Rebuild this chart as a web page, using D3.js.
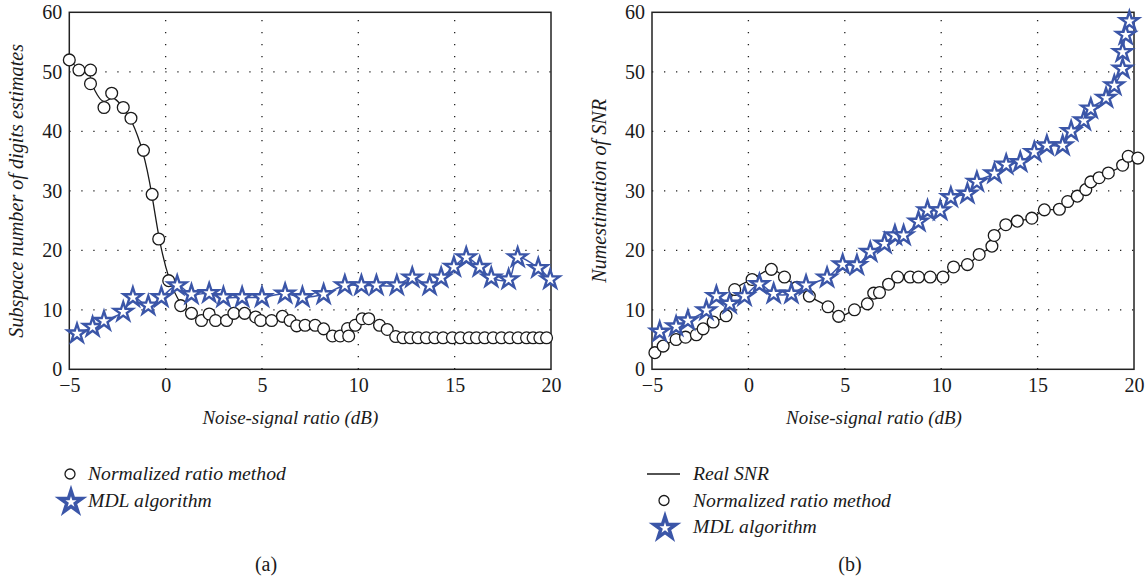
<!DOCTYPE html>
<html>
<head>
<meta charset="utf-8">
<script src="https://cdn.jsdelivr.net/npm/d3@7"></script>
<style>
    body { margin: 0; background: #fff; }
    text { font-family: "Liberation Serif", "Times New Roman", serif; fill: #1a1a1a; }
</style>
</head>
<body>
<svg id="drawing_region"></svg>
<script>
// tick values shared by both panels
const xTicks = [-5, 0, 5, 10, 15, 20];
const yTicks = [0, 10, 20, 30, 40, 50, 60];

// (a) normalized ratio method  [dB, estimate]
const ratioA = [
    [-5.0, 52.0], [-4.5, 50.3], [-3.9, 50.3], [-3.9, 48.0], [-3.2, 44.0], [-2.8, 46.4],
    [-2.2, 44.0], [-1.8, 42.2], [-1.15, 36.8], [-0.7, 29.4], [-0.36, 21.9], [0.16, 14.9],
    [0.78, 10.7], [1.34, 9.4], [1.86, 8.2], [2.26, 9.3], [2.59, 8.2], [3.16, 8.2],
    [3.54, 9.4], [4.1, 9.4], [4.67, 8.8], [4.93, 8.2], [5.5, 8.2], [6.06, 8.9],
    [6.46, 8.2], [6.8, 7.3], [7.24, 7.4], [7.76, 7.4], [8.2, 6.8], [8.66, 5.6],
    [9.06, 5.6], [9.44, 6.85], [9.5, 5.6], [9.84, 7.4], [10.2, 8.5], [10.54, 8.5],
    [11.1, 7.4], [11.5, 6.7], [11.94, 5.5], [12.32, 5.3], [12.7, 5.3], [13.1, 5.3],
    [13.53, 5.3], [13.97, 5.3], [14.4, 5.3], [14.88, 5.3], [15.3, 5.3], [15.75, 5.3],
    [16.13, 5.3], [16.56, 5.3], [17.0, 5.3], [17.43, 5.3], [17.86, 5.3], [18.29, 5.3],
    [18.73, 5.3], [19.07, 5.3], [19.42, 5.3], [19.77, 5.3]
];

// (a) MDL algorithm
const mdlA = [
    [-4.6, 6.0], [-3.79, 7.1], [-3.2, 8.1], [-2.2, 9.65], [-1.7, 12.1], [-0.9, 10.7],
    [-0.22, 12.1], [0.6, 14.1], [1.34, 12.6], [2.26, 12.8], [3.0, 12.1], [3.97, 12.1],
    [5.0, 12.1], [6.2, 12.7], [7.1, 12.1], [8.2, 12.6], [9.3, 14.1], [10.16, 14.1],
    [10.94, 14.1], [12.0, 14.1], [12.8, 15.4], [13.7, 14.1], [14.3, 15.4], [14.96, 17.2],
    [15.6, 18.8], [16.3, 17.2], [16.9, 15.4], [17.8, 15.1], [18.27, 18.8], [19.34, 17.0],
    [19.96, 15.1]
];

// (b) normalized ratio method
const ratioB = [
    [-4.85, 2.8], [-4.42, 3.9], [-3.75, 5.0], [-3.26, 5.4], [-2.7, 5.8], [-2.35, 6.8],
    [-1.83, 7.95], [-1.16, 9.0], [-0.71, 13.4], [0.19, 15.1], [1.19, 16.8], [1.87, 15.5],
    [2.52, 13.8], [3.16, 12.3], [4.13, 10.5], [4.68, 8.9], [5.5, 10.0], [6.17, 11.0],
    [6.5, 12.8], [6.8, 12.9], [7.27, 14.3], [7.74, 15.5], [8.39, 15.5], [8.82, 15.5],
    [9.43, 15.5], [10.09, 15.5], [10.64, 17.2], [11.36, 17.6], [11.97, 19.3], [12.63, 20.7],
    [12.75, 22.5], [13.35, 24.3], [13.95, 24.9], [14.7, 25.4], [15.35, 26.8], [16.13, 26.9],
    [16.56, 28.2], [17.06, 29.1], [17.5, 30.2], [17.76, 31.5], [18.19, 32.2], [18.67, 33.0],
    [19.41, 34.3], [19.7, 35.8], [20.2, 35.5]
];

// (b) real SNR trace (follows the ratio estimates)
const realB = ratioB;

// (b) MDL algorithm
const mdlB = [
    [-4.6, 6.3], [-3.75, 7.2], [-3.14, 8.2], [-2.18, 9.9], [-1.66, 12.3], [-0.97, 11.0],
    [-0.2, 12.3], [0.57, 14.3], [1.31, 12.7], [2.23, 12.7], [2.99, 14.1], [4.08, 15.4],
    [4.89, 17.6], [5.63, 17.5], [6.32, 19.7], [7.06, 21.1], [7.6, 22.5], [8.05, 22.5],
    [8.82, 24.8], [9.29, 26.7], [9.95, 26.7], [10.5, 28.9], [11.36, 29.5], [11.85, 31.5],
    [12.76, 32.9], [13.37, 34.4], [14.1, 34.8], [14.83, 36.5], [15.48, 37.6], [16.3, 37.6],
    [16.74, 40.0], [17.4, 41.8], [17.76, 43.8], [18.55, 45.6], [18.98, 47.7], [19.41, 50.5],
    [19.41, 53.3], [19.57, 56.2], [19.76, 58.5]
];

const BLUE = '#3b56a8';

// scale a text's font size so it spans the width measured on the reference
function fitSize( sel, target ) {
    const fs = parseFloat(sel.attr('font-size'));
    const len = sel.node().getComputedTextLength();
    const size = fs * target / len;
    sel.attr('font-size', size + 'px');
    return size;
}

class LinePanel {

    constructor( config ) {
        this.config = config;
        this.init();
    }

    init() {
        let self = this;
        let c = self.config;

        self.chart = d3.select('#drawing_region').append('g')
            .attr('transform', `translate(${c.left}, ${c.top})`);

        self.xscale = d3.scaleLinear().domain([-5, 20]).range([0, c.width]);
        self.yscale = d3.scaleLinear().domain([0, 60]).range([c.height, 0]);
    }

    render() {
        let self = this;
        let c = self.config;
        let w = c.width, h = c.height;

        // dotted grid
        const grid = self.chart.append('g');
        grid.selectAll('line.gx')
            .data(xTicks.slice(1, -1))
            .join('line')
            .attr('class', 'gx')
            .attr('x1', d => self.xscale(d)).attr('x2', d => self.xscale(d))
            .attr('y1', h).attr('y2', 0);
        grid.selectAll('line.gy')
            .data(yTicks.slice(1, -1))
            .join('line')
            .attr('class', 'gy')
            .attr('x1', 0).attr('x2', w)
            .attr('y1', d => self.yscale(d)).attr('y2', d => self.yscale(d));
        grid.selectAll('line')
            .attr('stroke', '#222')
            .attr('stroke-width', 1.3)
            .attr('stroke-dasharray', '1.3,10.7');

        // frame
        self.chart.append('rect')
            .attr('width', w).attr('height', h)
            .attr('fill', 'none')
            .attr('stroke', '#222')
            .attr('stroke-width', 1.5);

        // axes (labels only)
        const xaxis = d3.axisBottom(self.xscale).tickValues(xTicks).tickSize(0).tickPadding(9);
        const yaxis = d3.axisLeft(self.yscale).tickValues(yTicks).tickSize(0).tickPadding(7);
        const xg = self.chart.append('g').attr('transform', `translate(0, ${h})`).call(xaxis);
        const yg = self.chart.append('g').call(yaxis);
        [xg, yg].forEach(g => {
            g.attr('font-family', null).attr('font-size', null);
            g.select('.domain').remove();
            g.selectAll('text')
                .attr('font-size', '20px')
                .attr('fill', '#1a1a1a');
        });

        const xt = self.chart.append('text')
            .attr('x', c.xtitleX)
            .attr('y', h + 55)
            .attr('text-anchor', 'middle')
            .attr('font-size', '19px')
            .attr('font-style', 'italic')
            .text(c.xtitle);
        fitSize(xt, 176);

        const yt = self.chart.append('text')
            .attr('transform', `translate(${c.ytitleX}, ${h / 2}) rotate(-90)`)
            .attr('text-anchor', 'middle')
            .attr('font-size', '20px')
            .attr('font-style', 'italic')
            .text(c.ytitle);
        if (c.ytitleWidth) c.ytitleSize = fitSize(yt, c.ytitleWidth);
        else yt.attr('font-size', ytitleSize + 'px');

        const line = d3.line()
            .x(d => self.xscale(d[0]))
            .y(d => self.yscale(d[1]));

        // black curve
        self.chart.append('path')
            .datum(c.lineData)
            .attr('d', line.curve(c.blackCurve))
            .attr('fill', 'none')
            .attr('stroke', '#1a1a1a')
            .attr('stroke-width', 1.3);

        // circles
        self.chart.selectAll('circle.ratio')
            .data(c.ratio)
            .join('circle')
            .attr('class', 'ratio')
            .attr('cx', d => self.xscale(d[0]))
            .attr('cy', d => self.yscale(d[1]))
            .attr('r', 5.9)
            .attr('fill', '#fff')
            .attr('stroke', '#1a1a1a')
            .attr('stroke-width', 1.3);

        // blue curve
        self.chart.append('path')
            .datum(c.mdl)
            .attr('d', line.curve(d3.curveCatmullRom))
            .attr('fill', 'none')
            .attr('stroke', BLUE)
            .attr('stroke-width', 1.5);

        const star = d3.symbol().type(d3.symbolStar).size(108);
        self.chart.selectAll('path.mdl')
            .data(c.mdl)
            .join('path')
            .attr('class', 'mdl')
            .attr('transform', d => `translate(${self.xscale(d[0])}, ${self.yscale(d[1])})`)
            .attr('d', star)
            .attr('fill', '#fff')
            .attr('stroke', BLUE)
            .attr('stroke-width', 2.4);

        // legend
        const lg = d3.select('#drawing_region').append('g');
        c.legend.forEach((item, i) => {
            const y = c.legendTop + i * c.legendStep;
            if (item.type === 'line') {
                lg.append('line')
                    .attr('x1', c.legendMark - 17).attr('x2', c.legendMark + 16)
                    .attr('y1', y).attr('y2', y)
                    .attr('stroke', '#1a1a1a').attr('stroke-width', 1.3);
            } else if (item.type === 'circle') {
                lg.append('circle')
                    .attr('cx', c.legendMark).attr('cy', y).attr('r', 5)
                    .attr('fill', '#fff').attr('stroke', '#1a1a1a').attr('stroke-width', 1.3);
            } else {
                lg.append('path')
                    .attr('transform', `translate(${c.legendMark + 1}, ${y + 1})`)
                    .attr('d', d3.symbol().type(d3.symbolStar).size(150)())
                    .attr('fill', '#fff').attr('stroke', BLUE).attr('stroke-width', 3.5);
            }
            lg.append('text')
                .attr('x', c.legendText)
                .attr('y', y + 6)
                .attr('font-size', '20px')
                .attr('font-style', 'italic')
                .text(item.label);
        });
        const ref = lg.selectAll('text').filter(function () {
            return d3.select(this).text() === 'Normalized ratio method';
        });
        const lsize = fitSize(ref, 198);
        lg.selectAll('text').attr('font-size', lsize + 'px');

        d3.select('#drawing_region').append('text')
            .attr('x', c.captionX)
            .attr('y', 571)
            .attr('text-anchor', 'middle')
            .attr('font-size', '20px')
            .text(c.caption);
    }
}

let ytitleSize = 20;

d3.select('#drawing_region').attr('width', 1147).attr('height', 582);

const panelA = new LinePanel({
    left: 69.3, top: 12.3, width: 481.7, height: 357,
    xtitle: 'Noise-signal ratio (dB)', xtitleX: 221,
    ytitle: 'Subspace number of digits estimates',
    ytitleX: -46, ytitleWidth: 294,
    ratio: ratioA, mdl: mdlA, lineData: ratioA, blackCurve: d3.curveBasis,
    legend: [
        {type: 'circle', label: 'Normalized ratio method'},
        {type: 'star', label: 'MDL algorithm'}
    ],
    legendTop: 474, legendStep: 27, legendMark: 70, legendText: 88,
    caption: '(a)', captionX: 266
});
panelA.render();
ytitleSize = panelA.config.ytitleSize;

const panelB = new LinePanel({
    left: 652, top: 12.3, width: 482, height: 357,
    xtitle: 'Noise-signal ratio (dB)', xtitleX: 222,
    ytitle: 'Numestimation of SNR',
    ytitleX: -46,
    ratio: ratioB, mdl: mdlB, lineData: realB, blackCurve: d3.curveCatmullRom,
    legend: [
        {type: 'line', label: 'Real SNR'},
        {type: 'circle', label: 'Normalized ratio method'},
        {type: 'star', label: 'MDL algorithm'}
    ],
    legendTop: 474, legendStep: 26.5, legendMark: 664, legendText: 693,
    caption: '(b)', captionX: 850
});
panelB.render();
</script>
</body>
</html>
